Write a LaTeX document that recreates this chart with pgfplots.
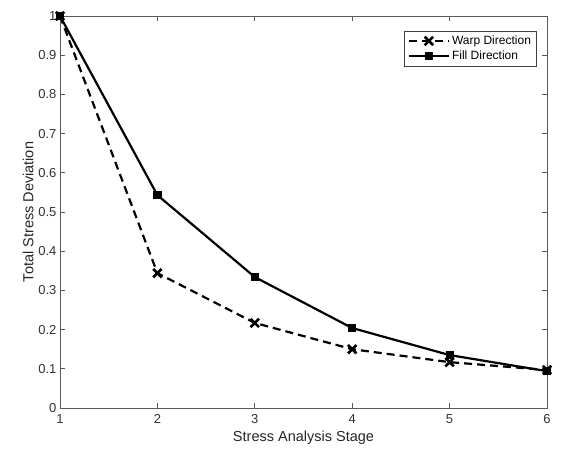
\documentclass[border=0pt]{standalone}
\usepackage{pgfplots}
\pgfplotsset{compat=1.18}
\usepackage{fontspec}
\setmainfont{Liberation Sans}
\definecolor{axgray}{HTML}{5A5A5A}
\begin{document}
\begin{tikzpicture}
\path[use as bounding box] (0pt,0pt) rectangle (561pt,459pt);
\begin{axis}[
    at={(60pt,51pt)}, anchor=south west,
    width=487pt, height=392pt, scale only axis,
    xmin=1, xmax=6, ymin=0, ymax=1,
    xtick={1,2,3,4,5,6},
    ytick={0,0.1,0.2,0.3,0.4,0.5,0.6,0.7,0.8,0.9,1},
    yticklabels={0,0.1,0.2,0.3,0.4,0.5,0.6,0.7,0.8,0.9,1},
    /pgf/number format/assume math mode=true,
    tick label style={font=\fontsize{13}{15}\selectfont, text=black!80},
    label style={font=\fontsize{14.5}{17}\selectfont, text=black!85},
    xticklabel style={yshift=-3pt},
    xlabel={Stress Analysis Stage},
    ylabel={Total Stress Deviation},
    xlabel style={yshift=0pt},
    ylabel style={yshift=-2pt},
    axis line style={axgray, line width=0.9pt},
    tick style={axgray, line width=0.7pt},
    tick align=inside,
    major tick length=5pt,
    legend style={at={(0.978,0.963)}, anchor=north east,
        font=\fontsize{12}{14}\selectfont, draw=black!75, line width=0.7pt,
        inner sep=3pt, row sep=1pt},
    legend cell align=left,
    legend image code/.code={%
      \draw[mark repeat=2, mark phase=2, #1]
        plot coordinates {(0pt,0pt) (20pt,0pt) (40pt,0pt)};},
]
\addplot[black, dashed, dash pattern=on 8pt off 5pt, line width=2.2pt,
    mark=x, mark size=6pt, mark options={solid, line width=2.6pt}]
  coordinates {(1,1.0) (2,0.344) (3,0.217) (4,0.150) (5,0.117) (6,0.097)};
\addlegendentry{Warp Direction}
\addplot[black, line width=2.2pt, mark=square*, mark size=3pt, mark options={solid}]
  coordinates {(1,1.0) (2,0.543) (3,0.334) (4,0.204) (5,0.135) (6,0.094)};
\addlegendentry{Fill Direction}
\end{axis}
\end{tikzpicture}
\end{document}
